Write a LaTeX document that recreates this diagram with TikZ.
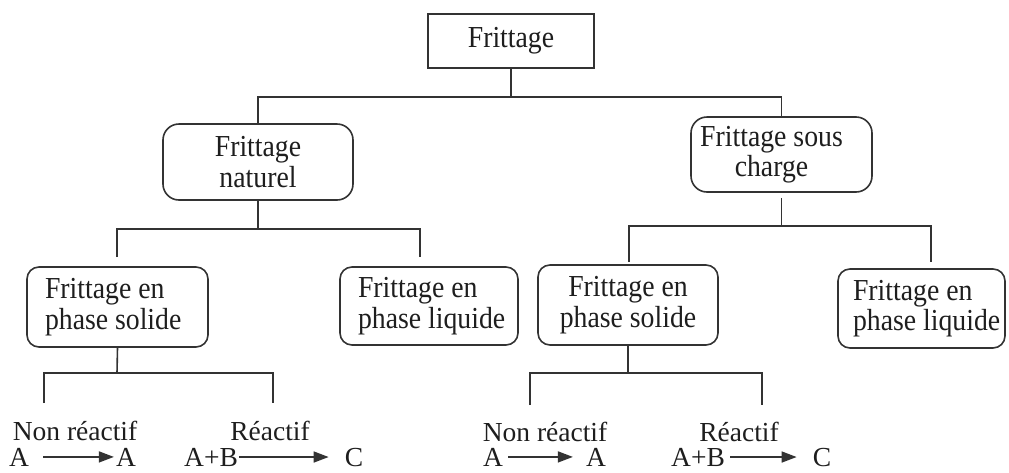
\documentclass[tikz,border=0pt]{standalone}
\usepackage{fontspec}
\setmainfont{Liberation Serif}
\newfontfamily\boxfont{Liberation Serif}[FakeStretch=0.91]
\usetikzlibrary{arrows.meta}
\definecolor{ink}{HTML}{1E1E1E}
\definecolor{wire}{HTML}{333333}
\begin{document}
\begin{tikzpicture}[x=1pt,y=-1pt,
  every node/.style={text=ink},
  box/.style={draw=wire, line width=1.6pt, inner sep=0pt, font=\boxfont\fontsize{30.5}{30.5}\selectfont},
  rbox/.style={box, rounded corners=12pt},
  lbox/.style={rbox, inner xsep=2pt, align=flush left},
  wirestyle/.style={draw=wire, line width=1.6pt},
  lbl/.style={inner sep=0pt, anchor=base, font=\fontsize{27.5}{30}\selectfont},
  arr/.style={wirestyle, -{Triangle[length=15pt,width=11pt]}}]
\useasboundingbox (0,0) rectangle (1009,472);
% boxes
\node[box, minimum width=166pt, minimum height=54pt] (top) at (511,41) {Frittage};
\node[rbox, rounded corners=16pt, minimum width=190pt, minimum height=76pt, align=center] (nat) at (258,162) {Frittage\\naturel};
\node[rbox, rounded corners=16pt, minimum width=181pt, minimum height=75pt, align=center] (sc) at (781.5,154.5) {Frittage sous\hspace*{20pt}\\charge\hspace*{20pt}};
\node[lbox, minimum height=80pt, text width=177pt] (sol1) at (117.5,307) {\mbox{\hspace*{16pt}Frittage en}\\\mbox{\hspace*{16pt}phase solide}};
\node[lbox, minimum height=78pt, text width=174pt] (liq1) at (429,306) {\mbox{\hspace*{16pt}Frittage en}\\\mbox{\hspace*{16pt}phase liquide}};
\node[rbox, minimum width=180pt, minimum height=80pt, align=center] (sol2) at (628,305) {Frittage en\\phase solide};
\node[lbox, minimum height=79pt, text width=163pt] (liq2) at (921.5,308.5) {\mbox{\hspace*{13pt}Frittage en}\\\mbox{\hspace*{13pt}phase liquide}};
% bus coordinates
\coordinate (b1) at (511,97);
\coordinate (b2) at (258,229);
\coordinate (b3) at (781.5,226);
\coordinate (b4) at (117,373);
\coordinate (b5) at (628,373);
\coordinate (d1) at (117,257);
\coordinate (d2) at (420,257);
\coordinate (d3) at (629,262);
\coordinate (d4) at (931,262);
\coordinate (e1) at (44,403);
\coordinate (e2) at (273,403);
\coordinate (e3) at (530,405);
\coordinate (e4) at (762,405);
% connectors level 1
\draw[wirestyle] (top.south) -- (b1);
\draw[wirestyle] (nat.north) |- (b1) -| (sc.north);
% level 2
\draw[wirestyle] (nat.south) -- (b2);
\draw[wirestyle] (d1) |- (b2) -| (d2);
\draw[wirestyle, shorten <=5pt] (sc.south) -- (b3);
\draw[wirestyle] (d3) |- (b3) -| (d4);
% level 3
\draw[wirestyle] (sol1.south) -- (b4);
\draw[wirestyle] (e1) |- (b4) -| (e2);
\draw[wirestyle] (sol2.south) -- (b5);
\draw[wirestyle] (e3) |- (b5) -| (e4);
% leaf labels
\node[lbl] (nr1) at (75,440) {Non réactif};
\node[lbl] (r1) at (270,440) {Réactif};
\node[lbl] (a1) at (19,466) {A};
\node[lbl] (a2) at (126,466) {A};
\node[lbl] (ab1) at (211,466) {A+B};
\node[lbl] (c1) at (354,466) {C};
\node[lbl] (nr2) at (545,441) {Non réactif};
\node[lbl] (r2) at (739,441) {Réactif};
\node[lbl] (a3) at (493,466) {A};
\node[lbl] (a4) at (596,466) {A};
\node[lbl] (ab2) at (698,466) {A+B};
\node[lbl] (c2) at (822,466) {C};
% reaction arrows
\draw[arr, shorten <=14pt, shorten >=2pt] (a1.east) -- (a2.west);
\draw[arr, shorten <=1pt, shorten >=16pt] (ab1.east) -- (c1.west);
\draw[arr, shorten <=5pt, shorten >=13pt] (a3.east) -- (a4.west);
\draw[arr, shorten <=5pt, shorten >=16pt] (ab2.east) -- (c2.west);
\end{tikzpicture}
\end{document}
